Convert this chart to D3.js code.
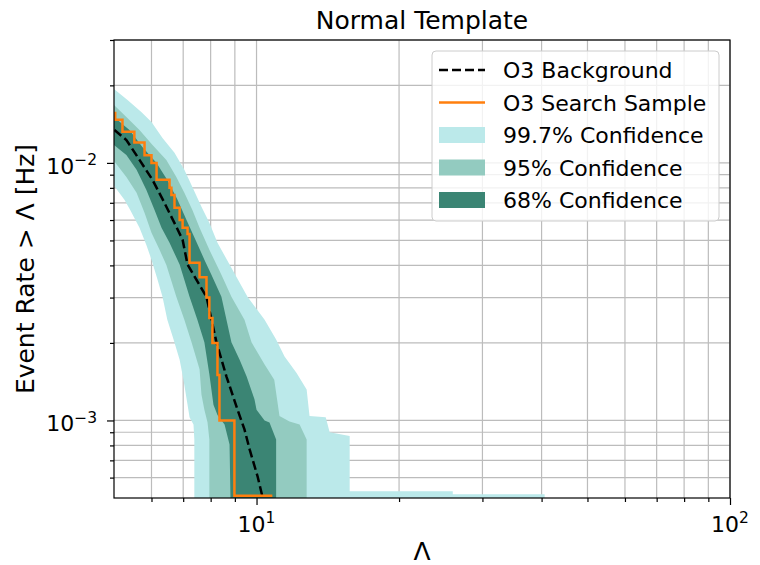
<!DOCTYPE html>
<html>
<head>
<meta charset="utf-8">
<script src="https://cdn.jsdelivr.net/npm/d3@7"></script>
<style>
body { margin: 0; background: #fff; }
text { font-family: "DejaVu Sans", sans-serif; fill: #000; }
</style>
</head>
<body>
<div id="chart-area"></div>
<script>
// tick values
var xMajorTicks = [10, 100];
var xMinorTicks = [6, 7, 8, 9, 20, 30, 40, 50, 60, 70, 80, 90];
var xTickExp = ["1", "2"];
var yMajorTicks = [1e-3, 1e-2];
var yMinorTicks = [6e-4, 7e-4, 8e-4, 9e-4, 2e-3, 3e-3, 4e-3, 5e-3, 6e-3, 7e-3, 8e-3, 9e-3, 2e-2, 3e-2];
var yTickExp = ["\u22123", "\u22122"];

// O3 background (dashed)
var bgLambda = [5.01, 5.31, 5.66, 6.03, 6.39, 6.77, 6.98, 7.15, 7.84, 8.23, 8.64, 9.12, 9.43, 9.67, 10.05, 10.3];
var bgRate = [0.01343, 0.01227, 0.01027, 0.00859, 0.00700, 0.00565, 0.00503, 0.00403, 0.00302, 0.00201, 0.00148, 0.00110, 0.000923, 0.000772, 0.000607, 0.000503];

// O3 search sample (step)
var searchLambda = [5.03, 5.21, 5.52, 5.80, 6.00, 6.15, 6.55, 6.61, 6.71, 6.88, 6.98, 7.15, 7.22, 7.58, 7.84, 7.95, 8.07, 8.27, 8.35, 8.98, 10.8];
var searchRate = [0.0158, 0.0147, 0.0132, 0.0120, 0.0107, 0.0100, 0.0086, 0.0080, 0.0075, 0.0067, 0.0060, 0.0056, 0.0053, 0.0041, 0.0036, 0.0030, 0.0025, 0.0020, 0.0015, 0.0010, 0.00051];

// 99.7% band
var c997UpperLam = [5.0, 5.34, 5.71, 6.00, 6.33, 6.71, 7.04, 7.32, 7.65, 7.95, 8.27, 8.77, 9.57, 10.4, 11.0, 11.46, 12.15, 12.76, 12.94, 14.0, 14.27, 15.73, 15.73, 25.97, 25.97, 40.6, 40.6];
var c997UpperRate = [0.01936, 0.01755, 0.01577, 0.01442, 0.01250, 0.01094, 0.00940, 0.00807, 0.00675, 0.00585, 0.00490, 0.00403, 0.00302, 0.00246, 0.00206, 0.00177, 0.00153, 0.00132, 0.00104, 0.00103, 0.000900, 0.000870, 0.000531, 0.000531, 0.000517, 0.000517, 0.0005];
var c997LowerLam = [5.0, 5.26, 5.41, 5.66, 5.85, 6.00, 6.18, 6.33, 6.48, 6.68, 6.88, 7.01, 7.15, 7.22, 7.36, 7.39, 7.39];
var c997LowerRate = [0.00815, 0.00719, 0.00657, 0.00560, 0.00481, 0.00421, 0.00352, 0.00302, 0.00246, 0.00206, 0.00172, 0.00144, 0.00115, 0.00103, 0.000965, 0.000844, 0.0005];

// 95% band
var c95UpperLam = [5.0, 5.31, 5.66, 6.03, 6.45, 6.77, 7.04, 7.32, 7.58, 7.95, 8.43, 8.85, 9.43, 9.76, 10.4, 10.9, 11.18, 11.74, 12.33, 12.76, 12.76];
var c95UpperRate = [0.01679, 0.01508, 0.01343, 0.01174, 0.01027, 0.00882, 0.00765, 0.00657, 0.00560, 0.00460, 0.00368, 0.00302, 0.00246, 0.00201, 0.00165, 0.00144, 0.00104, 0.00099, 0.000965, 0.000844, 0.0005];
var c95LowerLam = [5.0, 5.31, 5.58, 5.80, 6.00, 6.24, 6.45, 6.77, 7.04, 7.29, 7.58, 7.65, 7.76, 7.88, 7.95, 7.95];
var c95LowerRate = [0.01018, 0.00882, 0.00765, 0.00640, 0.00535, 0.00460, 0.00401, 0.00302, 0.00246, 0.00201, 0.00158, 0.00126, 0.00110, 0.000982, 0.000844, 0.0005];

// 68% band
var c68UpperLam = [5.0, 5.39, 5.74, 6.15, 6.48, 6.81, 7.11, 7.43, 7.76, 8.03, 8.43, 8.85, 9.21, 9.53, 9.90, 10.0, 10.4, 10.65, 11.0, 11.0];
var c68UpperRate = [0.01508, 0.01343, 0.01153, 0.0100, 0.00859, 0.00719, 0.00601, 0.00503, 0.00421, 0.00368, 0.00302, 0.00201, 0.00172, 0.00148, 0.00121, 0.00110, 0.00100, 0.000982, 0.000844, 0.0005];
var c68LowerLam = [5.0, 5.31, 5.58, 5.85, 6.09, 6.30, 6.55, 6.88, 7.22, 7.50, 7.76, 7.95, 8.11, 8.27, 8.56, 8.77, 8.81];
var c68LowerRate = [0.01174, 0.01074, 0.00940, 0.00786, 0.00657, 0.00560, 0.00490, 0.00403, 0.00302, 0.00246, 0.00201, 0.00151, 0.00115, 0.00105, 0.000965, 0.000807, 0.0005];

var legendLabels = ["O3 Background", "O3 Search Sample", "99.7% Confidence", "95% Confidence", "68% Confidence"];
var colLight = "#bbe9ea", colMid = "#93cbc0", colDark = "#3b8574", colOrange = "#ff7f0e";

var margin = {left:114, right:30, top:40, bottom:67};
var width = 760 - margin.left - margin.right;
var height = 565 - margin.top - margin.bottom;

var svg = d3.select("#chart-area").append("svg")
    .attr("width", 760)
    .attr("height", 565);

var g = svg.append("g")
    .attr("transform", "translate(" + margin.left + "," + margin.top + ")");

var x = d3.scaleLog().domain([5, 100]).range([0, width]);
var y = d3.scaleLog().domain([5e-4, 3e-2]).range([height, 0]);

g.append("clipPath").attr("id", "plot-clip")
    .append("rect").attr("width", width).attr("height", height);

// grid, major and minor
var grid = g.append("g").attr("class", "grid");
grid.selectAll("line.gx").data(xMinorTicks.concat(xMajorTicks)).enter().append("line")
    .attr("x1", function(d) { return x(d); }).attr("x2", function(d) { return x(d); })
    .attr("y1", 0).attr("y2", height)
    .attr("stroke", "#bcbcbc").attr("stroke-width", 1.2);
grid.selectAll("line.gy").data(yMinorTicks.concat(yMajorTicks)).enter().append("line")
    .attr("y1", function(d) { return y(d); }).attr("y2", function(d) { return y(d); })
    .attr("x1", 0).attr("x2", width)
    .attr("stroke", "#bcbcbc").attr("stroke-width", 1.2);

// confidence bands
var plot = g.append("g").attr("clip-path", "url(#plot-clip)");
var edge = d3.line().x(function(d) { return x(d[0]); }).y(function(d) { return y(d[1]); });

function bandPoints(upLam, upRate, loLam, loRate) {
    var pts = upLam.map(function(l, i) { return [l, upRate[i]]; });
    var lo = loLam.map(function(l, i) { return [l, loRate[i]]; }).reverse();
    return pts.concat(lo);
}

[[c997UpperLam, c997UpperRate, c997LowerLam, c997LowerRate, colLight],
 [c95UpperLam, c95UpperRate, c95LowerLam, c95LowerRate, colMid],
 [c68UpperLam, c68UpperRate, c68LowerLam, c68LowerRate, colDark]].forEach(function(b) {
    plot.append("path")
        .attr("d", edge(bandPoints(b[0], b[1], b[2], b[3])) + "Z")
        .attr("fill", b[4]);
});

// background line
plot.append("path")
    .datum(bgLambda.map(function(l, i) { return [l, bgRate[i]]; }))
    .attr("d", edge)
    .attr("fill", "none")
    .attr("stroke", "#000")
    .attr("stroke-width", 2.5)
    .attr("stroke-dasharray", "9,4");

// search sample
plot.append("path")
    .datum(searchLambda.map(function(l, i) { return [l, searchRate[i]]; }))
    .attr("d", d3.line().curve(d3.curveStepBefore)
        .x(function(d) { return x(d[0]); }).y(function(d) { return y(d[1]); }))
    .attr("fill", "none")
    .attr("stroke", colOrange)
    .attr("stroke-width", 2.5);

// axes
var xAxisMajor = d3.axisBottom(x).tickValues(xMajorTicks).tickSize(7).tickSizeOuter(0).tickFormat("");
var xAxisMinor = d3.axisBottom(x).tickValues(xMinorTicks).tickSize(4).tickSizeOuter(0).tickFormat("");
var yAxisMajor = d3.axisLeft(y).tickValues(yMajorTicks).tickSize(7).tickSizeOuter(0).tickFormat("");
var yAxisMinor = d3.axisLeft(y).tickValues(yMinorTicks).tickSize(4).tickSizeOuter(0).tickFormat("");

[[xAxisMajor, true], [xAxisMinor, true], [yAxisMajor, false], [yAxisMinor, false]].forEach(function(a) {
    var ax = g.append("g")
        .attr("transform", a[1] ? "translate(0," + height + ")" : null)
        .call(a[0]);
    ax.select(".domain").remove();
    ax.selectAll(".tick line").attr("stroke", "#000").attr("stroke-width", 1.2);
});

function powLabel(sel, exp) {
    sel.append("tspan").text("10");
    sel.append("tspan").attr("dy", "-0.55em").attr("font-size", "15.5px").text(exp);
}

xMajorTicks.forEach(function(v, i) {
    var t = g.append("text")
        .attr("x", x(v))
        .attr("y", height + 34)
        .attr("text-anchor", "middle")
        .attr("font-size", "22px");
    powLabel(t, xTickExp[i]);
});

yMajorTicks.forEach(function(v, i) {
    var t = g.append("text")
        .attr("x", -17)
        .attr("y", y(v) + 11)
        .attr("text-anchor", "end")
        .attr("font-size", "22px");
    powLabel(t, yTickExp[i]);
});

g.append("rect")
    .attr("width", width).attr("height", height)
    .attr("fill", "none").attr("stroke", "#000").attr("stroke-width", 1.2);

// labels
g.append("text")
    .attr("x", width / 2).attr("y", -11)
    .attr("text-anchor", "middle")
    .attr("font-size", "25px")
    .text("Normal Template");

g.append("text")
    .attr("x", width / 2).attr("y", height + 62)
    .attr("text-anchor", "middle")
    .attr("font-size", "25px")
    .text("\u039b");

g.append("text")
    .attr("transform", "rotate(-90)")
    .attr("x", -height / 2).attr("y", -80)
    .attr("text-anchor", "middle")
    .attr("font-size", "25px")
    .text("Event Rate > \u039b [Hz]");

// legend
var legend = svg.append("g").attr("transform", "translate(432,51)");
legend.append("rect")
    .attr("width", 287).attr("height", 170)
    .attr("rx", 4)
    .attr("fill", "#fff").attr("fill-opacity", 0.8)
    .attr("stroke", "#ccc").attr("stroke-width", 1);

legendLabels.forEach(function(label, i) {
    var row = legend.append("g").attr("transform", "translate(7," + (19 + i * 32.5) + ")");
    if (i === 0) {
        row.append("line").attr("x1", 0).attr("x2", 46)
            .attr("stroke", "#000").attr("stroke-width", 2.5).attr("stroke-dasharray", "9,4");
    } else if (i === 1) {
        row.append("line").attr("x1", 0).attr("x2", 46)
            .attr("stroke", colOrange).attr("stroke-width", 2.5);
    } else {
        row.append("rect").attr("x", 0).attr("y", -8).attr("width", 46).attr("height", 16)
            .attr("fill", [colLight, colMid, colDark][i - 2]);
    }
    row.append("text")
        .attr("x", 64).attr("y", 8)
        .attr("font-size", "22px")
        .text(label);
});
</script>
</body>
</html>
